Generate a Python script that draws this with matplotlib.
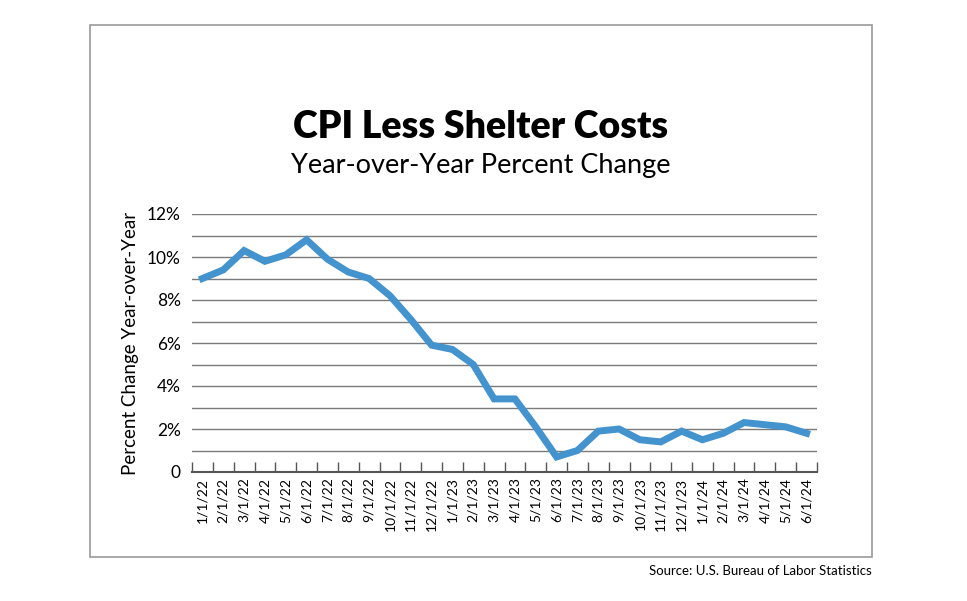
import numpy as np
import matplotlib.pyplot as plt
from matplotlib.patches import Rectangle

# monthly dates and YoY % change, CPI less shelter
months = ["1/1/22", "2/1/22", "3/1/22", "4/1/22", "5/1/22", "6/1/22",
          "7/1/22", "8/1/22", "9/1/22", "10/1/22", "11/1/22", "12/1/22",
          "1/1/23", "2/1/23", "3/1/23", "4/1/23", "5/1/23", "6/1/23",
          "7/1/23", "8/1/23", "9/1/23", "10/1/23", "11/1/23", "12/1/23",
          "1/1/24", "2/1/24", "3/1/24", "4/1/24", "5/1/24", "6/1/24"]
pct_change = [9.0, 9.4, 10.3, 9.8, 10.1, 10.8,
              9.9, 9.3, 9.0, 8.2, 7.1, 5.9,
              5.7, 5.0, 3.4, 3.4, 2.1, 0.7,
              1.0, 1.9, 2.0, 1.5, 1.4, 1.9,
              1.5, 1.8, 2.3, 2.2, 2.1, 1.8]
ytick_vals = [0, 2, 4, 6, 8, 10, 12]
ytick_labels = ["0", "2%", "4%", "6%", "8%", "10%", "12%"]

plt.rcParams['font.family'] = ['Lato', 'DejaVu Sans']

fig = plt.figure(figsize=(9.67, 6.01), dpi=100)

# outer frame
fig.patches.append(Rectangle((90 / 967, 1 - 557 / 601), 782 / 967, 532 / 601,
                             transform=fig.transFigure, fill=False,
                             edgecolor="#9a9a9a", linewidth=1.2))

ax = fig.add_axes([192 / 967, 1 - 472 / 601, 625 / 967, 258 / 601])
x = np.arange(len(months))
ax.plot(x, pct_change, color="#4393CF", linewidth=5, solid_joinstyle="miter",
        zorder=3)

ax.set_xlim(-0.5, len(months) - 0.5)
ax.set_ylim(0, 12)
for v in range(1, 13):
    ax.axhline(v, color="#7a7a7a", linewidth=1, zorder=1)

ax.set_yticks(ytick_vals)
ax.set_yticklabels(ytick_labels, fontsize=12.5)
ax.tick_params(axis="y", length=0, pad=8)

ax.set_xticks(x)
ax.set_xticklabels(months, rotation=90, fontsize=10)
ax.set_xticks(np.arange(len(months) + 1) - 0.5, minor=True)
ax.tick_params(axis="x", which="major", length=0, pad=4)
ax.tick_params(axis="x", which="minor", direction="in", length=7,
               color="#555555", width=1)

for s in ["top", "right", "left"]:
    ax.spines[s].set_visible(False)
ax.spines["bottom"].set_color("#555555")
ax.spines["bottom"].set_linewidth(1.5)

ax.set_ylabel("Percent Change Year-over-Year", fontsize=13.5, labelpad=6)

fig.text(481 / 967, 1 - 127 / 601, "CPI Less Shelter Costs", ha="center",
         va="center", fontsize=27, fontweight="heavy")
fig.text(481 / 967, 1 - 165 / 601, "Year-over-Year Percent Change", ha="center",
         va="center", fontsize=19.5)
fig.text(872 / 967, 1 - 571 / 601, "Source: U.S. Bureau of Labor Statistics",
         ha="right", va="center", fontsize=9.5)

fig.savefig("out.png", dpi=100)
